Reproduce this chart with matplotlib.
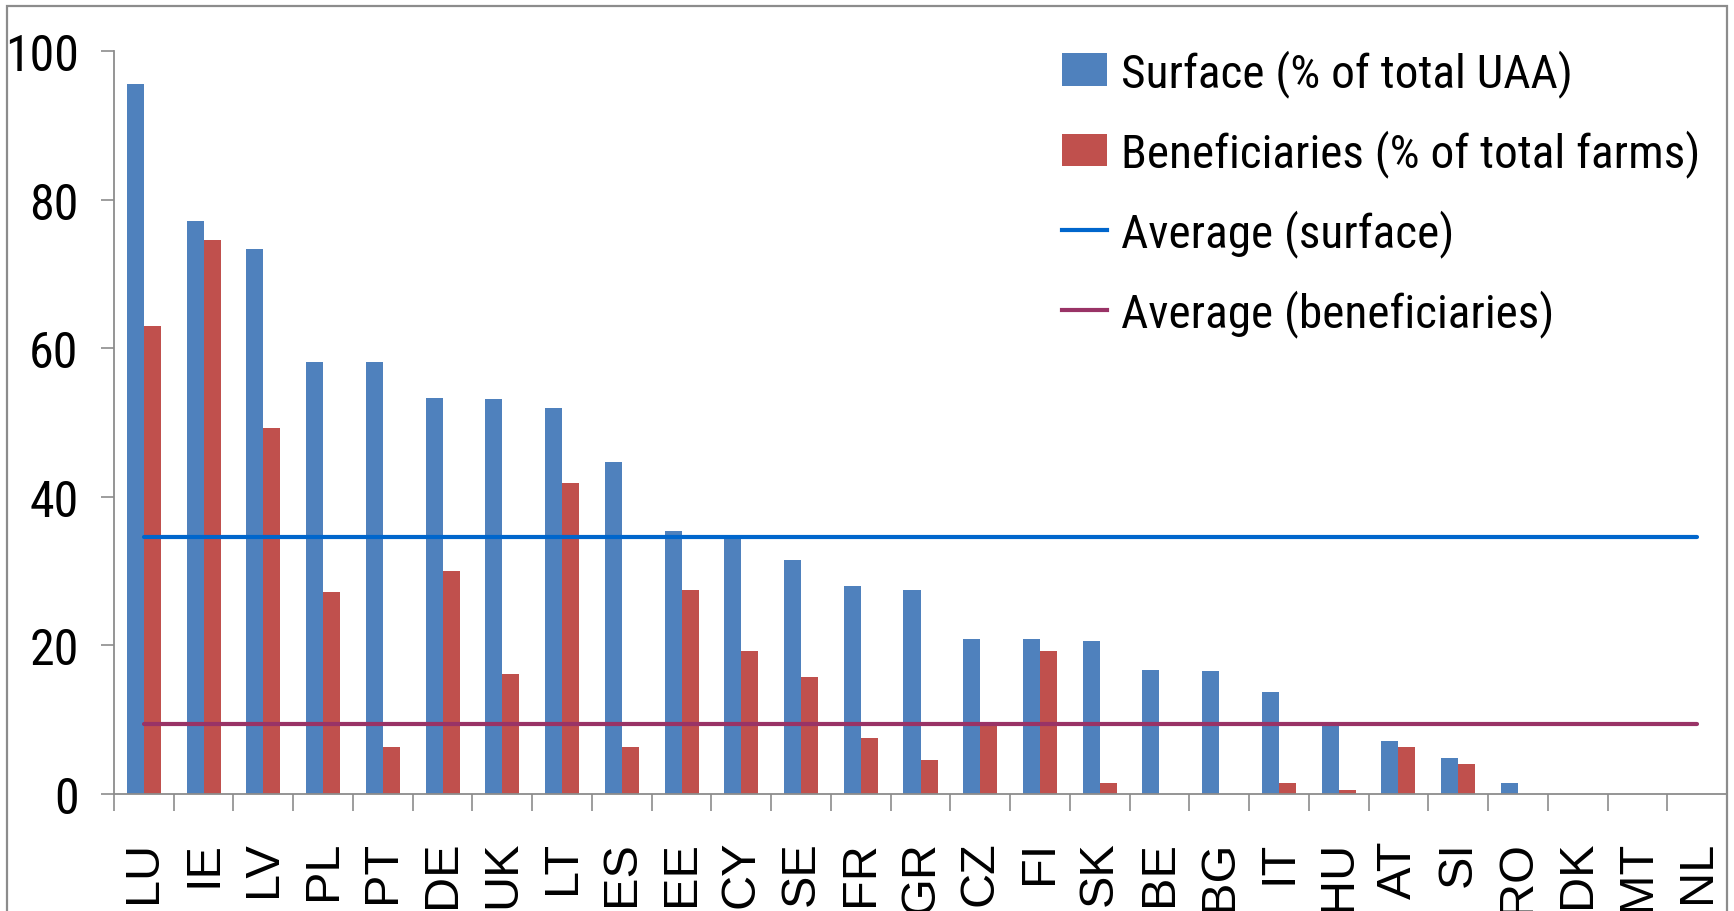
import matplotlib
matplotlib.use("Agg")
import matplotlib.pyplot as plt
from matplotlib.patches import Patch, Rectangle
from matplotlib.lines import Line2D

countries = ["LU", "IE", "LV", "PL", "PT", "DE", "UK", "LT", "ES", "EE", "CY", "SE", "FR",
             "GR", "CZ", "FI", "SK", "BE", "BG", "IT", "HU", "AT", "SI", "RO", "DK", "MT", "NL"]
surface = [95.5, 77.1, 73.3, 58.2, 58.2, 53.3, 53.1, 51.9, 44.7, 35.4, 34.8, 31.5, 28.0,
           27.5, 20.9, 20.9, 20.6, 16.7, 16.5, 13.7, 9.5, 7.1, 4.8, 1.5, 0, 0, 0]
beneficiaries = [63.0, 74.6, 49.3, 27.2, 6.3, 30.0, 16.2, 41.9, 6.3, 27.5, 19.3, 15.8, 7.6,
                 4.6, 9.5, 19.3, 1.5, 0, 0, 1.5, 0.5, 6.3, 4.0, 0, 0, 0, 0]
avg_surface = 34.6
avg_beneficiaries = 9.4
yticks = [0, 20, 40, 60, 80, 100]

blue = "#4F81BD"
red = "#C0504D"
line_blue = "#0066CC"
line_purple = "#993366"
grey = "#8C8C8C"

# narrow face first, like the Arial Narrow of the original
plt.rcParams["font.family"] = ["Roboto Condensed", "Arial Narrow", "Liberation Sans Narrow",
                               "Noto Sans", "DejaVu Sans"]
plt.rcParams["font.stretch"] = "condensed"

W, H = 1734, 912
fig = plt.figure(figsize=(W / 100, H / 100), dpi=100)
fig.patch.set_facecolor("white")

# outer frame like the Excel chart area
fig.patches.append(Rectangle((7 / W, -0.05), 1720 / W, 1.05 - 7 / H, transform=fig.transFigure,
                             fill=False, edgecolor="#8C8C8C", lw=1.6))

ax = fig.add_axes([114 / W, (H - 795) / H, (1727 - 114) / W, (795 - 52) / H])

x = list(range(len(countries)))
bw = 0.285
ax.bar([i - bw / 2 for i in x], surface, width=bw, color=blue, zorder=2)
ax.bar([i + bw / 2 for i in x], beneficiaries, width=bw, color=red, zorder=2)

ax.plot([x[0], x[-1]], [avg_surface, avg_surface], color=line_blue, lw=3, zorder=3,
        solid_capstyle="round")
ax.plot([x[0], x[-1]], [avg_beneficiaries, avg_beneficiaries], color=line_purple, lw=3,
        zorder=3, solid_capstyle="round")

ax.set_xlim(-0.5, len(countries) - 0.5)
ax.set_ylim(0, 100)

for s in ["top", "right"]:
    ax.spines[s].set_visible(False)
for s in ["left", "bottom"]:
    ax.spines[s].set_color(grey)
    ax.spines[s].set_linewidth(1.3)

ax.set_yticks(yticks)
ax.set_yticklabels([str(v) for v in yticks])
ax.tick_params(axis="y", length=9.5, width=1.2, color=grey, pad=16, labelsize=36)

# category boundaries as major ticks, labels on minor ticks
ax.set_xticks([i - 0.5 for i in x] + [len(countries) - 0.5])
ax.set_xticklabels([])
ax.set_xticks(x, minor=True)
ax.set_xticklabels(countries, minor=True, rotation=90, va="top", ha="center",
                   family=["Liberation Sans", "DejaVu Sans"], fontstretch="normal")
ax.tick_params(axis="x", which="major", length=12, width=1.2, color=grey, direction="out")
ax.tick_params(axis="x", which="minor", length=0, pad=33, labelsize=35)

handles = [
    Patch(facecolor=blue, edgecolor="none"),
    Patch(facecolor=red, edgecolor="none"),
    Line2D([0], [0], color=line_blue, lw=3),
    Line2D([0], [0], color=line_purple, lw=3),
]
labels = ["Surface (% of total UAA)", "Beneficiaries (% of total farms)",
          "Average (surface)", "Average (beneficiaries)"]
fig.legend(handles, labels, loc="upper left", bbox_to_anchor=(1062 / W, 1 - 50 / H),
           frameon=False, fontsize=34, borderpad=0, borderaxespad=0,
           handlelength=0.95, handleheight=0.68, handletextpad=0.3, labelspacing=0.68)

fig.savefig("out.png", dpi=100)
